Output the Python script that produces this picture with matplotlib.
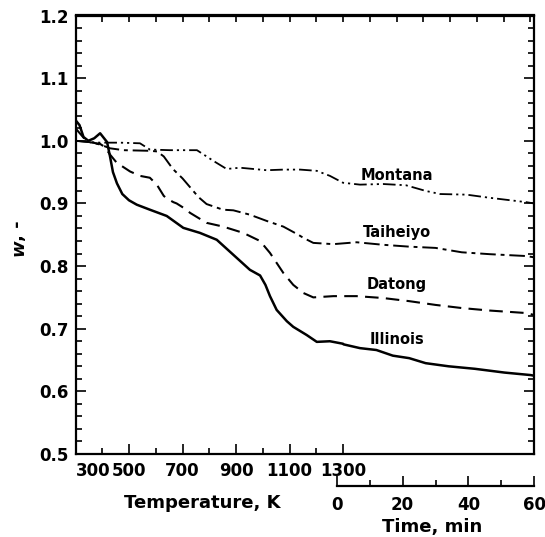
import matplotlib
matplotlib.use("Agg")
import matplotlib.pyplot as plt
import numpy as np

plt.rcParams['font.family'] = ['DejaVu Sans']
plt.rcParams['font.weight'] = 'bold'

# ---------------- data ----------------
# heating period: temperature [K]
illinois_T = [300, 315, 330, 348, 370, 392, 418, 429, 440, 455, 475, 500, 529, 578, 641, 703, 765,
              828, 890, 952, 990, 1010, 1027, 1052, 1090, 1114, 1164, 1202, 1251, 1300]
illinois_wT = [1.033, 1.025, 1.006, 1.000, 1.004, 1.012, 0.998, 0.975, 0.950, 0.932, 0.915, 0.905,
               0.898, 0.890, 0.880, 0.861, 0.853, 0.842, 0.818, 0.794, 0.785, 0.770, 0.752, 0.730,
               0.712, 0.703, 0.690, 0.679, 0.680, 0.676]
datong_T = [300, 330, 350, 392, 410, 429, 454, 504, 541, 578, 604, 630, 641, 666, 678, 715, 728,
            755, 790, 852, 927, 990, 1027, 1077, 1114, 1152, 1189, 1264]
datong_wT = [1.020, 1.005, 0.998, 0.995, 0.990, 0.978, 0.965, 0.951, 0.944, 0.941, 0.930, 0.912,
             0.908, 0.902, 0.900, 0.890, 0.885, 0.878, 0.869, 0.863, 0.853, 0.840, 0.821, 0.789,
             0.770, 0.757, 0.750, 0.752]
taiheiyo_T = [300, 350, 392, 429, 480, 578, 605, 630, 664, 700, 728, 760, 790, 851, 890, 952,
              1015, 1077, 1133, 1152, 1189, 1264]
taiheiyo_wT = [1.000, 0.998, 0.994, 0.988, 0.985, 0.984, 0.983, 0.975, 0.955, 0.940, 0.926, 0.910,
               0.899, 0.890, 0.889, 0.882, 0.872, 0.863, 0.850, 0.845, 0.837, 0.835]
montana_T = [300, 350, 392, 418, 466, 541, 578, 653, 754, 790, 815, 865, 915, 1015, 1077, 1140,
             1202, 1251, 1300]
montana_wT = [1.000, 0.998, 0.997, 0.997, 0.997, 0.996, 0.986, 0.985, 0.985, 0.975, 0.968, 0.955,
              0.957, 0.953, 0.954, 0.954, 0.952, 0.944, 0.933]

# isothermal period: time [min]
illinois_t = [2, 7, 12, 17, 22, 27, 34, 42, 51, 59, 60]
illinois_wt = [0.675, 0.669, 0.666, 0.657, 0.653, 0.645, 0.640, 0.636, 0.630, 0.626, 0.625]
datong_t = [6, 14, 22, 30, 38, 46.5, 57.7, 60]
datong_wt = [0.752, 0.749, 0.744, 0.738, 0.733, 0.729, 0.725, 0.722]
taiheiyo_t = [6, 14, 22, 30, 38, 46.5, 57.7, 60]
taiheiyo_wt = [0.838, 0.834, 0.831, 0.829, 0.822, 0.819, 0.816, 0.814]
montana_t = [7, 14, 21, 27, 31.4, 39.5, 46.5, 57.7, 60]
montana_wt = [0.930, 0.931, 0.929, 0.920, 0.915, 0.914, 0.909, 0.902, 0.900]

coal_names = ["Montana", "Taiheiyo", "Datong", "Illinois"]
temp_ticks = [300, 500, 700, 900, 1100, 1300]
time_ticks = [0, 20, 40, 60]
y_ticks = [0.5, 0.6, 0.7, 0.8, 0.9, 1.0, 1.1, 1.2]

# ---------------- layout ----------------
T_AT_TIME0 = 1277.6      # x position (K units) of time = 0
K_PER_MIN = 12.27        # x units per minute
X_MAX = 2014

def tx(t):
    return T_AT_TIME0 + K_PER_MIN * np.asarray(t, dtype=float)

fig = plt.figure(figsize=(5.45, 5.37), dpi=100)
W, H = 545, 537
ax = fig.add_axes([75.5 / W, 1 - 454 / H, (534 - 75.5) / W, (454 - 15.5) / H])

styles = {
    "Montana": dict(ls=(0, (7, 2.2, 1.2, 2.2, 1.2, 2.2)), lw=1.3),
    "Taiheiyo": dict(ls=(0, (8, 2.5, 2, 2.5)), lw=1.4),
    "Datong": dict(ls=(0, (6.5, 3.5)), lw=1.5),
    "Illinois": dict(ls='-', lw=1.8),
}
series = {
    "Montana": (montana_T, montana_wT, montana_t, montana_wt),
    "Taiheiyo": (taiheiyo_T, taiheiyo_wT, taiheiyo_t, taiheiyo_wt),
    "Datong": (datong_T, datong_wT, datong_t, datong_wt),
    "Illinois": (illinois_T, illinois_wT, illinois_t, illinois_wt),
}
for name in coal_names:
    T, wT, t, wt = series[name]
    x = np.concatenate([np.asarray(T, float), tx(t)])
    y = np.concatenate([wT, wt])
    ax.plot(x, y, color='black', solid_capstyle='round', dash_capstyle='butt', **styles[name])

label_pos = {"Montana": 0.944, "Taiheiyo": 0.853, "Datong": 0.770, "Illinois": 0.682}
for name in coal_names:
    ax.text(1502, label_pos[name], name, ha='center', va='center', fontsize=10.5,
            fontweight='bold')

ax.set_xlim(300, X_MAX)
ax.set_ylim(0.5, 1.2)
for s in ax.spines.values():
    s.set_linewidth(1.6)

# y ticks
ax.set_yticks(y_ticks)
ax.set_yticklabels([f"{v:.1f}" for v in y_ticks])
ax.set_yticks(np.arange(0.5, 1.2001, 0.02), minor=True)
ax.tick_params(axis='y', which='both', direction='in', left=True, right=True,
               labelsize=12, width=1.2, pad=5)
ax.tick_params(axis='y', which='major', length=7)
ax.tick_params(axis='y', which='minor', length=4)
for lab in ax.get_yticklabels():
    lab.set_fontweight('bold')

# bottom (temperature) ticks
ax.set_xticks(temp_ticks)
ax.set_xticklabels([str(v) for v in temp_ticks])
ax.set_xticks([400, 600, 800, 1000, 1200], minor=True)
ax.tick_params(axis='x', which='both', direction='in', bottom=True, top=False,
               labelsize=12, width=1.2, pad=6)
ax.tick_params(axis='x', which='major', length=7)
ax.tick_params(axis='x', which='minor', length=4)
for lab in ax.get_xticklabels():
    lab.set_fontweight('bold')
ax.xaxis.get_major_ticks()[0].label1.set_horizontalalignment('left')

# top ticks (every 100 K units)
axt = ax.secondary_xaxis('top')
axt.set_xticks(np.arange(400, X_MAX, 100))
axt.tick_params(axis='x', direction='in', length=5, width=1.2, labeltop=False)
axt.spines['top'].set_linewidth(1.6)

# time axis
axtime = fig.add_axes([337 / W, 1 - 486 / H, (534 - 337) / W, 0.0001])
axtime.set_xlim(0, 60)
for k in ['left', 'right', 'top']:
    axtime.spines[k].set_visible(False)
axtime.spines['bottom'].set_linewidth(1.6)
axtime.set_yticks([])
axtime.patch.set_visible(False)
axtime.set_xticks(time_ticks)
axtime.set_xticklabels([str(v) for v in time_ticks])
axtime.set_xticks([10, 30, 50], minor=True)
axtime.tick_params(axis='x', which='both', direction='in', width=1.2, labelsize=12, pad=7)
axtime.tick_params(axis='x', which='major', length=7)
axtime.tick_params(axis='x', which='minor', length=4)
for lab in axtime.get_xticklabels():
    lab.set_fontweight('bold')

# axis titles
fig.text(202 / W, 1 - 503 / H, "Temperature, K", ha='center', va='center', fontsize=13,
         fontweight='bold')
fig.text(432 / W, 1 - 527 / H, "Time, min", ha='center', va='center', fontsize=13,
         fontweight='bold')
fig.text(18 / W, 1 - 248 / H, "w", rotation=90, ha='center', va='center', fontsize=13,
         fontweight='bold', style='italic')
fig.text(18 / W, 1 - 231 / H, ", -", rotation=90, ha='center', va='center', fontsize=13,
         fontweight='bold')

fig.savefig("out.png", dpi=100)
